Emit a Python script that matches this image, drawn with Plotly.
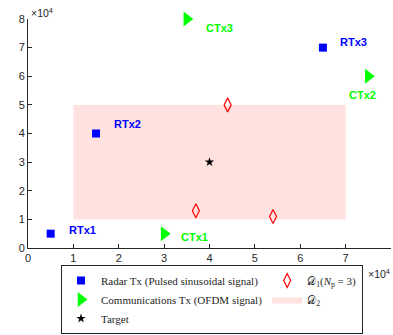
import plotly.graph_objects as go

# ---- data ----
radar_names = ["RTx1", "RTx2", "RTx3"]
radar_x = [0.5e4, 1.5e4, 6.5e4]
radar_y = [0.5e4, 4.0e4, 7.0e4]

comm_names = ["CTx1", "CTx2", "CTx3"]
comm_x = [3.0e4, 7.5e4, 3.5e4]
comm_y = [0.5e4, 6.0e4, 8.0e4]

target_x = [4.0e4]
target_y = [3.0e4]

d1_x = [4.4e4, 3.7e4, 5.4e4]
d1_y = [5.0e4, 1.3e4, 1.1e4]

d2_x = [1.0e4, 7.0e4, 7.0e4, 1.0e4, 1.0e4]
d2_y = [1.0e4, 1.0e4, 5.0e4, 5.0e4, 1.0e4]

tick_labels = ["0", "1", "2", "3", "4", "5", "6", "7", "8"]
tick_vals = [float(t) * 1e4 for t in tick_labels]

# ---- styles ----
BLUE = "#0000FF"
GREEN = "#00FF00"
RED = "#FF0000"
PINK = "#FFE1DF"
AX = "#262626"
SANS = "Liberation Sans, Arial, sans-serif"
SERIF = "Liberation Serif, Times New Roman, serif"

radar_off = [(16, 4), (16, 10), (15, 6)]
comm_off = [(15, -3), (-21, -19), (17, -9)]

ML, MR, MT, MB = 28, 2, 19, 86
W, H = 393, 335
PW, PH = W - ML - MR, H - MT - MB

fig = go.Figure()

fig.add_trace(go.Scatter(
    x=d2_x, y=d2_y, mode="lines", fill="toself", fillcolor=PINK,
    line=dict(width=0, color=PINK), name="𝒟<sub>2</sub>",
    legendgroup="b", legendrank=5, hoverinfo="skip"))

fig.add_trace(go.Scatter(
    x=radar_x, y=radar_y, mode="markers", cliponaxis=False,
    marker=dict(symbol="square", size=8, color=BLUE),
    name="Radar Tx (Pulsed sinusoidal signal)", legendgroup="a", legendrank=1))

fig.add_trace(go.Scatter(
    x=comm_x, y=comm_y, mode="markers", cliponaxis=False,
    marker=dict(symbol="triangle-right", size=13, color=GREEN),
    name="Communications Tx (OFDM signal)", legendgroup="a", legendrank=2))

fig.add_trace(go.Scatter(
    x=target_x, y=target_y, mode="markers", cliponaxis=False,
    marker=dict(symbol="star", size=7, color="black"),
    name="Target", legendgroup="a", legendrank=3))

fig.add_trace(go.Scatter(
    x=d1_x, y=d1_y, mode="markers", cliponaxis=False,
    marker=dict(symbol="diamond-tall-open", size=10, color=RED,
                line=dict(width=1.2, color=RED)),
    name="𝒟<sub>1</sub>(<i>N</i><sub>p</sub> = 3)", legendgroup="b", legendrank=4))

for nm, x, y, (dx, dy) in zip(radar_names, radar_x, radar_y, radar_off):
    fig.add_annotation(x=x, y=y, text="<b>%s</b>" % nm, showarrow=False,
                       xanchor="left", yanchor="middle", xshift=dx, yshift=dy,
                       font=dict(family=SANS, size=11, color=BLUE))
for nm, x, y, (dx, dy) in zip(comm_names, comm_x, comm_y, comm_off):
    fig.add_annotation(x=x, y=y, text="<b>%s</b>" % nm, showarrow=False,
                       xanchor="left", yanchor="middle", xshift=dx, yshift=dy,
                       font=dict(family=SANS, size=11, color=GREEN))

# exponent labels
fig.add_annotation(xref="paper", yref="paper", x=(29 - ML) / PW, y=(MT + PH - 12) / PH,
                   text="×10<sup>4</sup>", showarrow=False, xanchor="left", yanchor="middle",
                   font=dict(family=SANS, size=10.5, color=AX))
fig.add_annotation(xref="paper", yref="paper", x=(392 - ML) / PW, y=(MT + PH - 275) / PH,
                   text="×10<sup>4</sup>", showarrow=False, xanchor="right", yanchor="middle",
                   font=dict(family=SANS, size=10.5, color=AX))

axis_common = dict(
    range=[0, 8e4], tickvals=tick_vals, ticktext=tick_labels,
    showgrid=False, zeroline=False, showline=True, linecolor=AX, linewidth=1,
    ticks="inside", ticklen=4, tickcolor=AX, tickwidth=1, mirror=False,
    tickfont=dict(family=SANS, size=11, color=AX),
)

fig.update_layout(
    width=W, height=H,
    margin=dict(l=ML, r=MR, t=MT, b=MB),
    paper_bgcolor="white", plot_bgcolor="white",
    xaxis=dict(**axis_common),
    yaxis=dict(**axis_common),
    showlegend=True,
    legend=dict(
        orientation="h", traceorder="grouped", tracegroupgap=0,
        xref="paper", yref="paper",
        x=(61 - ML) / PW, xanchor="left",
        y=(MT + PH - 334) / PH, yanchor="bottom",
        bgcolor="white", bordercolor="#262626", borderwidth=1,
        font=dict(family=SERIF, size=11, color="#262626"),
    ),
)

fig.write_html("out.html")
